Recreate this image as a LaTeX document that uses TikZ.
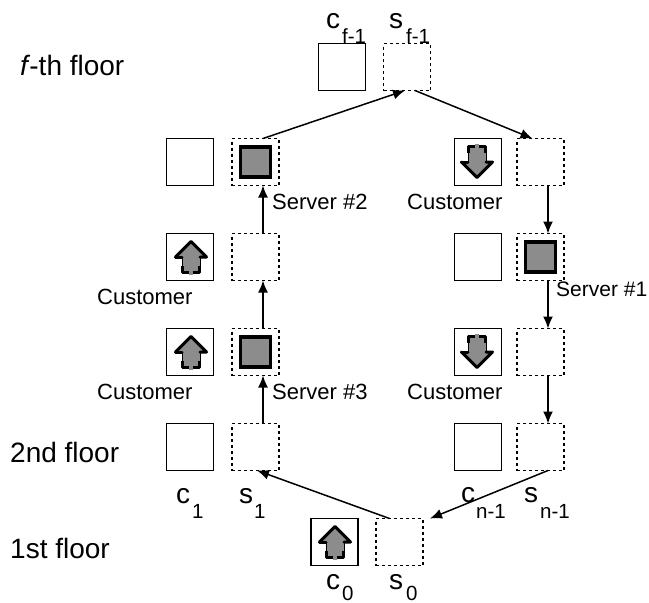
\documentclass[tikz,border=0pt]{standalone}
\usepackage{fontspec}
\setmainfont{Liberation Sans}
\usetikzlibrary{arrows.meta}
\definecolor{dotgray}{gray}{0.55}
\newcommand{\fs}[1]{\fontsize{#1}{#1}\selectfont}
\tikzset{x=1pt,y=-1pt,
 cbox/.style={draw,line width=1.5pt,minimum size=47pt,inner sep=0pt,outer sep=0pt},
 sbox/.style={draw,line width=1.5pt,dash pattern=on 3pt off 3pt,minimum size=47pt,inner sep=0pt,outer sep=0pt},
 srv/.style={draw,line width=3.8pt,fill=dotgray,minimum size=30pt,inner sep=0pt},
 lnk/.style={-{Latex[length=12pt,width=10pt]},line width=1.5pt},
 small/.style={inner sep=0pt,anchor=base west,font=\fs{22}},
 big/.style={inner sep=0pt,anchor=base west,font=\fs{28}},
 mainl/.style={inner sep=0pt,anchor=base west,font=\fs{28}},
 sub/.style={inner sep=0pt,anchor=base west,font=\fs{20.5}},
 up/.pic={
  \fill[dotgray] (0,-15) -- (15,0) -- (9,0) -- (9,16) -- (-9,16) -- (-9,0) -- (-15,0) -- cycle;
  \draw[line width=3pt,line join=round,line cap=round] (-15.5,0) -- (0,-15.5) -- (15.5,0) -- (9,0);
  \draw[line width=3pt,line join=round,line cap=round] (-15.5,0) -- (-9,0);
  \draw[line width=.7pt] (-9,0) -- (-9,10) (9,0) -- (9,10);
  \draw[line width=3pt,line join=round] (-8.5,9) -- (-8.5,15.5) -- (8.5,15.5) -- (8.5,9);
  \fill[dotgray] (-2,8) rectangle (2,18);},
 down/.pic={
  \fill[dotgray] (0,15) -- (15,0) -- (9,0) -- (9,-16) -- (-9,-16) -- (-9,0) -- (-15,0) -- cycle;
  \draw[line width=3pt,line join=round,line cap=round] (-15.5,0) -- (0,15.5) -- (15.5,0) -- (9,0);
  \draw[line width=3pt,line join=round,line cap=round] (-15.5,0) -- (-9,0);
  \draw[line width=.7pt] (-9,0) -- (-9,-10) (9,0) -- (9,-10);
  \draw[line width=3pt,line join=round] (-8.5,-9) -- (-8.5,-15.5) -- (8.5,-15.5) -- (8.5,-9);
  \fill[dotgray] (-2,-8) rectangle (2,-18);}}
\begin{document}
\begin{tikzpicture}
\useasboundingbox (0,0) rectangle (649,603);
% boxes
\node[cbox] (cf) at (342,67) {};
\node[sbox] (sf) at (407,67) {};
\node[cbox] (cl2) at (190,162) {};
\node[sbox] (sl2) at (255.5,162) {};
\node[cbox] (cl3) at (190,257) {};
\node[sbox] (sl3) at (255.5,257) {};
\node[cbox] (cl4) at (190,352) {};
\node[sbox] (sl4) at (255.5,352) {};
\node[cbox] (cl5) at (190,447) {};
\node[sbox] (sl5) at (255.5,447) {};
\node[cbox] (cr2) at (478,162) {};
\node[sbox] (sr2) at (540.5,162) {};
\node[cbox] (cr3) at (478,257) {};
\node[sbox] (sr3) at (540.5,257) {};
\node[cbox] (cr4) at (478,352) {};
\node[sbox] (sr4) at (540.5,352) {};
\node[cbox] (cr5) at (478,447) {};
\node[sbox] (sr5) at (540.5,447) {};
\node[cbox] (c0) at (334.5,542) {};
\node[sbox] (s0) at (399.5,542) {};
% servers
\node[srv] (srv2) at (sl2) {};
\node[srv] (srv3) at (sl4) {};
\node[srv] (srv1) at (sr3) {};
% arrows glyphs
\pic at ([xshift=1pt]cl3.center) {up};
\pic at ([xshift=1pt]cl4.center) {up};
\pic at ([xshift=.5pt]c0.center) {up};
\pic at ([xshift=-1pt]cr2.center) {down};
\pic at ([xshift=-1pt]cr4.center) {down};
% links
\draw[lnk] ([xshift=7.5pt]sl5.north) -- ([xshift=7.5pt]sl4.south);
\draw[lnk] ([xshift=7.5pt]sl4.north) -- ([xshift=7.5pt]sl3.south);
\draw[lnk] ([xshift=7.5pt]sl3.north) -- ([xshift=7.5pt]sl2.south);
\draw[lnk] ([xshift=7.5pt]sl2.north) -- ([xshift=-2pt]sf.south);
\draw[lnk] ([xshift=8pt]sf.south) -- ([xshift=-8pt]sr2.north);
\draw[lnk] ([xshift=7.5pt]sr2.south) -- ([xshift=7.5pt]sr3.north);
\draw[lnk] ([xshift=7.5pt]sr3.south) -- ([xshift=7.5pt]sr4.north);
\draw[lnk] ([xshift=7.5pt]sr4.south) -- ([xshift=7.5pt]sr5.north);
\draw[lnk] ([xshift=7.5pt]sr5.south) -- ([xshift=7pt]s0.north east);
\draw[lnk] ([xshift=-10pt]s0.north) -- ([xshift=-22pt]sl5.south east);
% text
\node[big] (l1) at (20,75) {\textit{f}\kern-1pt-th floor};
\node[big] (l2) at (10,462) {2nd floor};
\node[big] (l3) at (10,558) {1st floor};
\node[small] (t1) at (272,209) {Server \#2};
\node[small] (t2) at (272,399) {Server \#3};
\node[small,font=\fs{21}] (t3) at (556,296) {Server \#1};
\node[small] (t4) at (407,209) {Customer};
\node[small] (t5) at (97,304) {Customer};
\node[small] (t6) at (97,399) {Customer};
\node[small] (t7) at (407,399) {Customer};
\node[mainl] (a1) at (326,28) {c};
\node[sub] (a2) at (342,43) {f-1};
\node[mainl] (a3) at (389,28) {s};
\node[sub] (a4) at (406,43) {f-1};
\node[mainl] (b1) at (176,503) {c};
\node[sub] (b2) at (192,518) {1};
\node[mainl] (b3) at (239,503) {s};
\node[sub] (b4) at (254,518) {1};
\node[mainl] (b5) at (461,502) {c};
\node[sub] (b6) at (476,518) {n-1};
\node[mainl] (b7) at (524,502) {s};
\node[sub] (b8) at (540,518) {n-1};
\node[mainl] (d1) at (326,589) {c};
\node[sub] (d2) at (342,600) {0};
\node[mainl] (d3) at (389,589) {s};
\node[sub] (d4) at (406,600) {0};
\end{tikzpicture}
\end{document}
